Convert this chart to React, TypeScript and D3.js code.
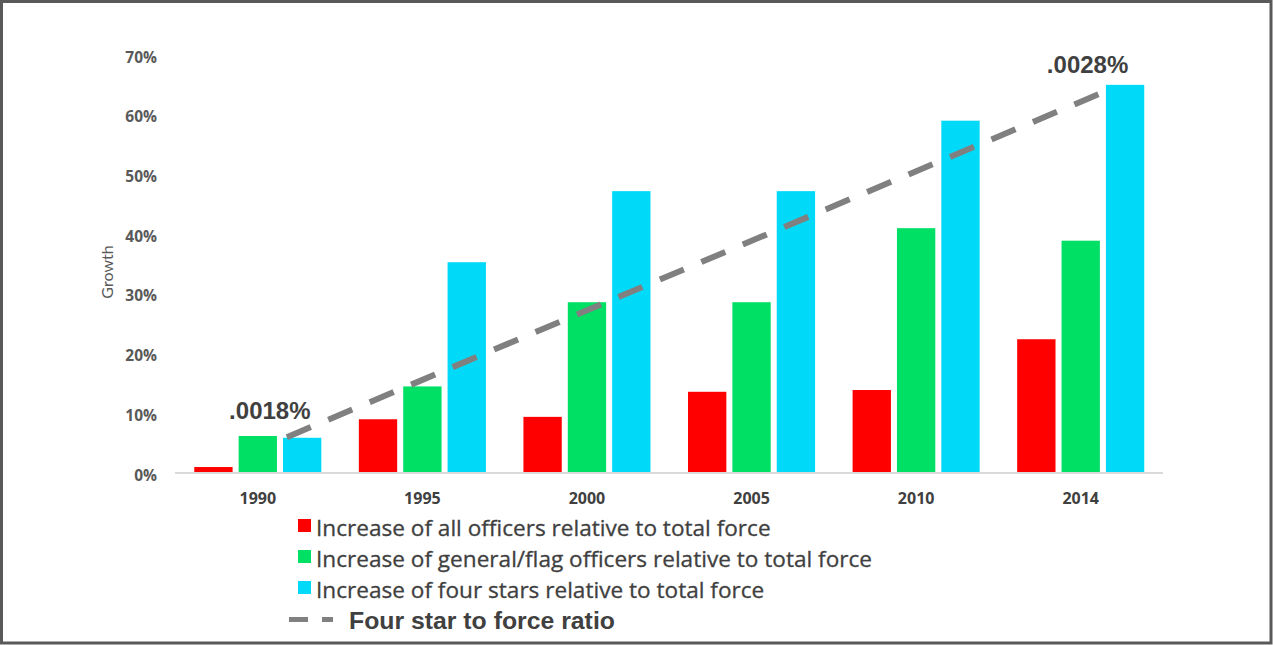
import { useEffect } from "react";
import * as d3 from "d3";

const categories = ["1990", "1995", "2000", "2005", "2010", "2014"];
const allOfficers = [1.0, 9.0, 9.4, 13.6, 13.9, 22.4];
const generalFlag = [6.2, 14.5, 28.6, 28.6, 41.0, 38.9];
const fourStars = [5.9, 35.3, 47.2, 47.2, 59.0, 65.0];
const yTicks = [0, 10, 20, 30, 40, 50, 60, 70];

// straight dashed ratio line: start and end anchored on the four-star bars
const ratioCats = ["1990", "2014"];
const ratioValues = [6.0, 64.5];
const ratioLabels = [".0018%", ".0028%"];

const SERIES = [
  { key: "all", label: "Increase of all officers relative to total force", color: "#FF0000", values: allOfficers },
  { key: "flag", label: "Increase of general/flag officers relative to total force", color: "#00E064", values: generalFlag },
  { key: "four", label: "Increase of four stars relative to total force", color: "#00D9F7", values: fourStars },
];

const W = 1273;
const H = 645;

export default function App() {
  useEffect(() => {
    document.body.style.margin = "0";
  }, []);

  const x = d3.scaleBand<string>()
    .domain(categories)
    .range([175.5, 1163])
    .paddingInner(0.228)
    .paddingOuter(0.114);

  const xSub = d3.scaleBand<string>()
    .domain(SERIES.map((s) => s.key))
    .range([0, x.bandwidth()])
    .paddingInner(0.136);

  const y = d3.scaleLinear().domain([0, 70]).range([473, 55]);

  const fracs = [0.1, 0.2];
  const ratioPts: [number, number][] = ratioCats.map((c, i) => [
    (x(c) ?? 0) + (xSub("four") ?? 0) + fracs[i] * xSub.bandwidth(),
    y(ratioValues[i]),
  ]);
  const line = d3.line<[number, number]>();
  const labelOffsets = [[-17, -18], [-26, -15]];

  const axisColor = "#595959";
  const textColor = "#404040";
  const sans = "'Open Sans', sans-serif";
  const arial = "'Liberation Sans', Arial, sans-serif";

  return (
    <svg width={W} height={H} style={{ display: "block", fontFamily: sans }}>
      <rect x={0} y={0} width={W} height={H} fill="#fff" />
      <rect x={1.5} y={1.5} width={1269.5} height={641.5} fill="none" stroke="#595959" strokeWidth={3} />

      {/* y tick labels */}
      {yTicks.map((t) => (
        <text key={t} x={157} y={y(t) + 2} dy="0.36em" textAnchor="end"
          fontSize={15.5} fontWeight={700} fill={axisColor}>
          {t}%
        </text>
      ))}

      <text transform="translate(107,272) rotate(-90)" textAnchor="middle" dy="0.36em"
        fontFamily="Lato, sans-serif" fontSize={16} fill={axisColor}>
        Growth
      </text>

      {/* bars */}
      {categories.map((c, ci) => (
        <g key={c} transform={`translate(${x(c)},0)`}>
          {SERIES.map((s) => (
            <rect key={s.key} x={xSub(s.key)} y={y(s.values[ci])}
              width={xSub.bandwidth()} height={y(0) - y(s.values[ci])} fill={s.color} />
          ))}
        </g>
      ))}

      <line x1={175} x2={1163} y1={y(0)} y2={y(0)} stroke="#D9D9D9" strokeWidth={2} />

      {categories.map((c) => (
        <text key={c} x={(x(c) ?? 0) + x.bandwidth() / 2} y={504} textAnchor="middle"
          fontSize={16} fontWeight={700} fill={textColor}>
          {c}
        </text>
      ))}

      {/* ratio line */}
      <path d={line(ratioPts) ?? ""} fill="none" stroke="#808080" strokeWidth={6}
        strokeDasharray="26,19" />
      {ratioPts.map((p, i) => (
        <text key={i} x={p[0] + labelOffsets[i][0]} y={p[1] + labelOffsets[i][1]} textAnchor="middle"
          fontFamily={arial} fontWeight={700} fontSize={24} fill={textColor}>
          {ratioLabels[i]}
        </text>
      ))}

      {/* legend */}
      {SERIES.map((s, i) => (
        <g key={s.key} transform={`translate(0,${536 + i * 31})`}>
          <rect x={298} y={-17} width={13} height={13} fill={s.color} />
          <text x={316} y={0} fontSize={22.6} fill={textColor} stroke={textColor} strokeWidth={0.3}>
            {s.label}
          </text>
        </g>
      ))}
      <line x1={289} x2={333} y1={619.5} y2={619.5} stroke="#808080" strokeWidth={5}
        strokeDasharray="19,14" />
      <text x={349} y={629} fontFamily={arial} fontWeight={700} fontSize={24.8} fill={textColor}>
        Four star to force ratio
      </text>
    </svg>
  );
}
